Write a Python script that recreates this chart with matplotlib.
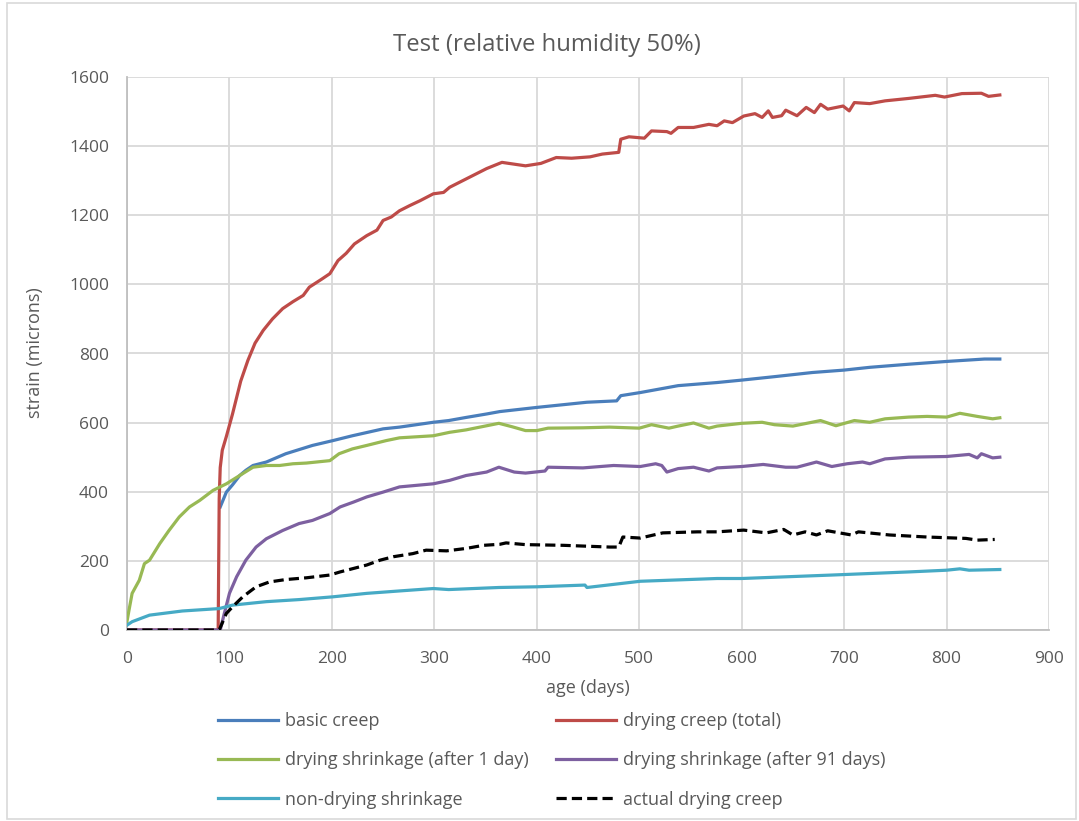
import matplotlib
matplotlib.use("Agg")
import matplotlib.pyplot as plt
from matplotlib.patches import Rectangle

plt.rcParams['font.family'] = ['Open Sans', 'DejaVu Sans']

title = "Test (relative humidity 50%)"
xlabel = "age (days)"
ylabel = "strain (microns)"

basic_x = [91, 97, 103, 110, 116, 123, 136, 155, 181, 201, 220, 250, 266, 299, 314, 331, 351, 364, 400,
           449, 478, 482, 501, 538, 576, 600, 632, 669, 700, 725, 763, 800, 837, 852]
basic_y = [356, 399, 420, 447, 462, 476, 486, 510, 534, 548, 562, 582, 587, 601, 606, 615, 625, 632, 644,
           659, 663, 678, 687, 707, 716, 723, 733, 745, 752, 760, 769, 777, 784, 784]

total_x = [0, 89, 90, 91, 93, 97, 103, 111, 118, 125, 133, 142, 152, 162, 172, 178, 190, 198, 206, 214,
           222, 234, 244, 250, 258, 266, 276, 286, 299, 309, 315, 331, 351, 366, 389, 404, 419, 434,
           452, 464, 480, 482, 490, 505, 512, 527, 531, 538, 553, 568, 576, 583, 591, 602, 613, 620,
           626, 630, 639, 643, 654, 663, 671, 677, 684, 699, 705, 710, 725, 740, 763, 789, 798, 815,
           834, 841, 852]
total_y = [0, 0, 380, 470, 520, 560, 625, 720, 780, 830, 867, 900, 930, 950, 968, 992, 1015, 1031, 1069,
           1090, 1117, 1141, 1157, 1185, 1195, 1213, 1228, 1242, 1262, 1266, 1281, 1305, 1335, 1353,
           1343, 1350, 1367, 1365, 1369, 1377, 1382, 1420, 1427, 1423, 1444, 1442, 1437, 1454, 1454,
           1463, 1459, 1473, 1468, 1487, 1494, 1483, 1502, 1483, 1488, 1504, 1488, 1512, 1497, 1521,
           1507, 1516, 1502, 1526, 1523, 1531, 1538, 1547, 1542, 1552, 1553, 1544, 1548]

dry1_x = [0, 2, 5, 12, 17, 22, 32, 41, 51, 61, 71, 84, 97, 110, 123, 136, 149, 162, 175, 198, 207,
          220, 234, 253, 266, 299, 315, 331, 336, 363, 376, 389, 400, 411, 445, 471, 500, 512, 529,
          538, 553, 568, 576, 600, 620, 632, 650, 677, 692, 710, 725, 740, 763, 781, 800, 813, 830,
          845, 852]
dry1_y = [25, 58, 106, 144, 192, 202, 250, 288, 327, 356, 375, 404, 423, 447, 471, 476, 476, 481, 483,
          490, 510, 524, 534, 548, 556, 562, 572, 579, 582, 598, 588, 577, 577, 584, 585, 587, 584,
          594, 584, 590, 599, 584, 590, 598, 601, 594, 590, 606, 591, 606, 601, 611, 616, 618, 616,
          627, 618, 611, 614]

dry91_x = [0, 91, 95, 100, 107, 116, 126, 136, 152, 168, 181, 198, 208, 221, 234, 250, 266, 299, 315,
           331, 351, 363, 378, 389, 408, 411, 445, 475, 501, 516, 522, 527, 538, 553, 568, 576, 600,
           621, 643, 654, 673, 688, 703, 718, 725, 740, 763, 800, 822, 830, 834, 845, 852]
dry91_y = [0, 0, 48, 106, 154, 202, 240, 264, 288, 308, 317, 337, 356, 370, 385, 399, 414, 423, 433,
           447, 457, 471, 457, 454, 460, 471, 469, 476, 473, 481, 476, 457, 467, 471, 460, 469, 473,
           479, 471, 471, 486, 473, 481, 486, 481, 495, 500, 502, 508, 498, 510, 498, 500]

nondry_x = [0, 5, 22, 54, 90, 103, 136, 168, 201, 234, 266, 299, 314, 363, 400, 447, 449, 501, 576,
            600, 688, 763, 800, 813, 822, 852]
nondry_y = [14, 24, 43, 55, 62, 72, 82, 88, 96, 106, 113, 120, 117, 123, 125, 130, 123, 141, 149,
            149, 159, 168, 173, 177, 173, 175]

actual_x = [0, 90, 97, 103, 113, 126, 139, 155, 175, 198, 208, 221, 234, 247, 260, 279, 292, 312, 331,
            348, 364, 370, 389, 426, 471, 480, 484, 501, 523, 557, 576, 602, 624, 641, 650, 662, 673,
            684, 707, 714, 744, 781, 819, 830, 847]
actual_y = [0, 0, 48, 67, 96, 125, 139, 146, 151, 159, 168, 178, 188, 202, 212, 221, 231, 229, 236,
            245, 248, 252, 247, 245, 240, 240, 269, 266, 281, 284, 284, 289, 281, 291, 275, 284, 275,
            287, 275, 284, 275, 269, 265, 260, 262]

labels = ["basic creep", "drying creep (total)", "drying shrinkage (after 1 day)",
          "drying shrinkage (after 91 days)", "non-drying shrinkage", "actual drying creep"]
colors = ["#4A7EBB", "#BE4B48", "#98B954", "#7D60A0", "#46AAC5", "#000000"]

xticks = list(range(0, 901, 100))
yticks = list(range(0, 1601, 200))

fig = plt.figure(figsize=(10.79, 8.21), dpi=100)
ax = fig.add_axes([127/1079, 1 - 630/821, (1049-127)/1079, (630-77)/821])

lw = 2.3
series = [(basic_x, basic_y), (total_x, total_y), (dry1_x, dry1_y),
          (dry91_x, dry91_y), (nondry_x, nondry_y), (actual_x, actual_y)]
handles = []
for i, ((xs, ys), lab, col) in enumerate(zip(series, labels, colors)):
    if i == 5:
        h, = ax.plot(xs, ys, color=col, lw=lw, dashes=(3.2, 1.6), label=lab, zorder=5)
    else:
        h, = ax.plot(xs, ys, color=col, lw=lw, label=lab, zorder=3)
    handles.append(h)

ax.set_xlim(0, 900)
ax.set_ylim(0, 1600)
ax.set_xticks(xticks)
ax.set_yticks(yticks)
ax.grid(True, color="#d9d9d9", lw=1.3, zorder=0)
ax.set_axisbelow(True)
for s in ["top", "right"]:
    ax.spines[s].set_visible(False)
for s in ["left", "bottom"]:
    ax.spines[s].set_color("#bfbfbf")
    ax.spines[s].set_linewidth(1.3)
ax.tick_params(axis="both", length=0, labelsize=12.5, colors="#595959")
ax.tick_params(axis="y", pad=13)
ax.tick_params(axis="x", pad=15)

fig.text(547/1079, 1 - 45/821, title, fontsize=17.2, color="#595959", ha="center", va="center")
fig.text(588/1079, 1 - 688/821, xlabel, fontsize=13, color="#595959", ha="center", va="center")
fig.text(35/1079, 1 - 353/821, ylabel, fontsize=13, color="#595959", ha="center", va="center",
         rotation=90)

order = [0, 2, 4, 1, 3, 5]
leg = fig.legend([handles[i] for i in order], [labels[i] for i in order],
                 loc="upper left", bbox_to_anchor=(202/1079, 1 - 696/821),
                 ncol=2, frameon=False, fontsize=13, handlelength=3.33, handletextpad=0.39,
                 columnspacing=1.5, labelspacing=1.17, labelcolor="#595959")

fig.patches.append(Rectangle((7/1079, 2/821), 1069/1079, 816/821, transform=fig.transFigure,
                             fill=False, edgecolor="#d9d9d9", lw=1.2))

fig.savefig("out.png", dpi=100)
